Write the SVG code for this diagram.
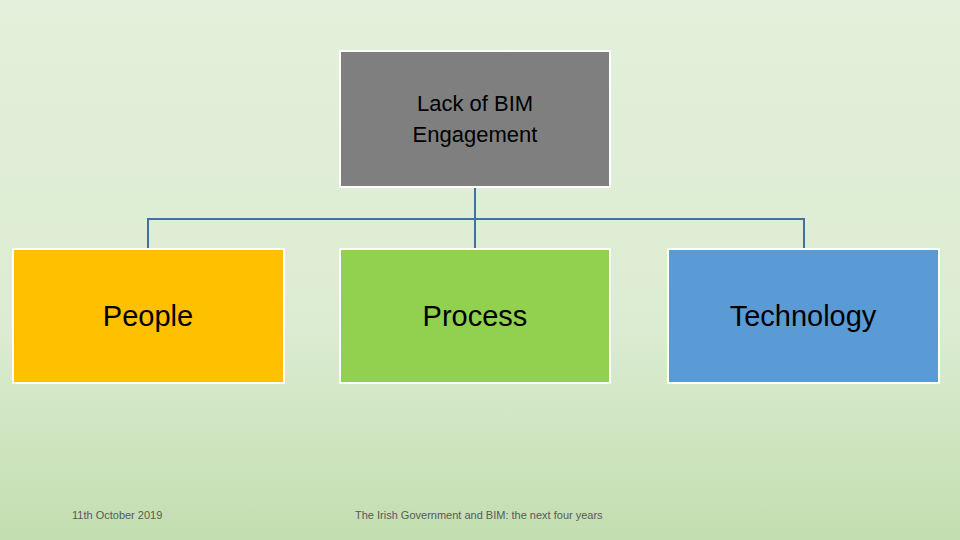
<svg xmlns="http://www.w3.org/2000/svg" width="960" height="540" viewBox="0 0 960 540">
<defs>
<linearGradient id="bg" x1="0" y1="0" x2="0" y2="1">
<stop offset="0" stop-color="#e3f0db"/>
<stop offset="0.6" stop-color="#dcecd2"/>
<stop offset="1" stop-color="#c3deb0"/>
</linearGradient>
<style>
.box{stroke:#ffffff;stroke-width:2}
.t{font-family:"Liberation Sans",Arial,sans-serif;text-anchor:middle;fill:#000}
.big{font-size:29px}
.foot{font-family:"Liberation Sans",Arial,sans-serif;font-size:11px;fill:#595959}
.c{fill:none;stroke:#41719c;stroke-width:2}
</style>
</defs>
<rect width="960" height="540" fill="url(#bg)"/>
<g id="connectors">
<path class="c" d="M475 187V219M148 249V219H804V249M475 219V249"/>
</g>
<g id="root">
<rect class="box" x="340" y="51" width="270" height="136" fill="#7f7f7f"/>
<text class="t" x="475" y="111" font-size="22">Lack of BIM</text>
<text class="t" x="475" y="142" font-size="22">Engagement</text>
</g>
<g id="people">
<rect class="box" x="13" y="249" width="271" height="134" fill="#ffc000"/>
<text class="t big" x="148" y="326">People</text>
</g>
<g id="process">
<rect class="box" x="340" y="249" width="270" height="134" fill="#92d050"/>
<text class="t big" x="475" y="326">Process</text>
</g>
<g id="technology">
<rect class="box" x="668" y="249" width="271" height="134" fill="#5b9bd5"/>
<text class="t big" x="803" y="326">Technology</text>
</g>
<text class="foot" x="72" y="519">11th October 2019</text>
<text class="foot" x="355" y="519">The Irish Government and BIM: the next four years</text>
</svg>
